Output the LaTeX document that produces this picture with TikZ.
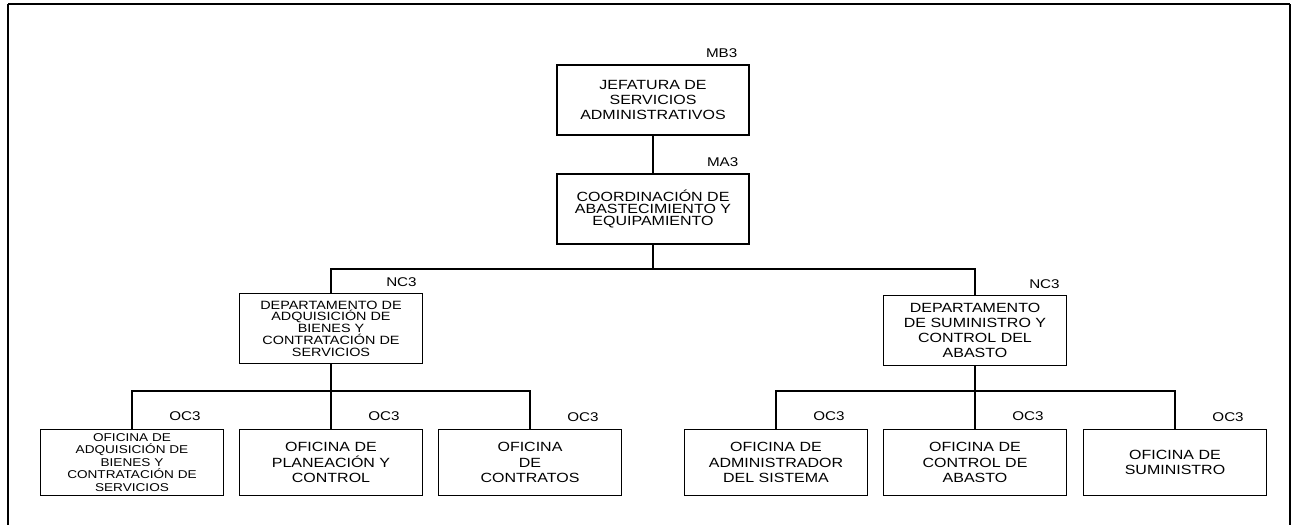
\documentclass[tikz,border=0pt]{standalone}
\usepackage{fontspec}
\setmainfont{Liberation Sans}
\newfontfamily\orgfont[FakeStretch=1.2]{Liberation Sans}
\usetikzlibrary{positioning}

\begin{document}
\begin{tikzpicture}[x=0.75pt,y=-0.75pt]
\useasboundingbox (0,0) rectangle (1293,525);
\tikzstyle{unit}=[draw, line width=0.9pt, align=center, inner sep=1pt, minimum width=137pt, minimum height=50pt, font=\orgfont\fontsize{10}{11.5}\selectfont]
\tikzstyle{tag}=[inner sep=0pt, anchor=base east, font=\orgfont\fontsize{9.5}{9.5}\selectfont]
\tikzstyle{link}=[line width=1pt]

% marco
\draw[line width=1.8pt] (8,525) -- (8,4);
\draw[line width=1.2pt] (8,4) -- (1290,4);
\draw[line width=2.2pt] (1290,4) -- (1290,525);

% niveles superiores
\node[unit, minimum width=144pt, minimum height=52.5pt, font=\orgfont\fontsize{10}{10.9}\selectfont] (jefe) at (653,100) {JEFATURA DE\\SERVICIOS\\ADMINISTRATIVOS};
\node[unit, minimum width=144pt, minimum height=52.5pt, font=\orgfont\fontsize{10}{9.2}\selectfont] (coord) at (653,209) {COORDINACIÓN DE\\ABASTECIMIENTO Y\\EQUIPAMIENTO};

% departamentos
\node[unit, minimum height=52pt, font=\orgfont\fontsize{9}{8.8}\selectfont] (dadq) at (331,328.5) {DEPARTAMENTO DE\\ADQUISICIÓN DE\\BIENES Y\\CONTRATACIÓN DE\\SERVICIOS};
\node[unit, minimum height=52pt, font=\orgfont\fontsize{10}{11.3}\selectfont] (dsum) at (975,330.5) {DEPARTAMENTO\\DE SUMINISTRO Y\\CONTROL DEL\\ABASTO};

% oficinas
\node[unit, font=\orgfont\fontsize{8.5}{9.4}\selectfont] (oadq) at (132,462.5) {OFICINA DE\\ADQUISICIÓN DE\\BIENES Y\\CONTRATACIÓN DE\\SERVICIOS};
\node[unit] (oplan) at (331,462.5) {OFICINA DE\\PLANEACIÓN Y\\CONTROL};
\node[unit] (ocont) at (530,462.5) {OFICINA\\DE\\CONTRATOS};
\node[unit] (oadm) at (776,462.5) {OFICINA DE\\ADMINISTRADOR\\DEL SISTEMA};
\node[unit] (octl) at (975,462.5) {OFICINA DE\\CONTROL DE\\ABASTO};
\node[unit] (osum) at (1175,462.5) {OFICINA DE\\SUMINISTRO};

% claves
\node[tag] (tjefe) at ([shift={(-12,-7)}]jefe.north east) {MB3};
\node[tag] (tcoord) at ([shift={(-11,-7)}]coord.north east) {MA3};
\node[tag] (tdadq) at ([shift={(-6,-7)}]dadq.north east) {NC3};
\node[tag] (tdsum) at ([shift={(-7,-7)}]dsum.north east) {NC3};
\node[tag] (toadq) at ([shift={(-23,-8)}]oadq.north east) {OC3};
\node[tag] (toplan) at ([shift={(-23,-8)}]oplan.north east) {OC3};
\node[tag] (tocont) at ([shift={(-23,-7)}]ocont.north east) {OC3};
\node[tag] (toadm) at ([shift={(-23,-8)}]oadm.north east) {OC3};
\node[tag] (toctl) at ([shift={(-23,-8)}]octl.north east) {OC3};
\node[tag] (tosum) at ([shift={(-23,-7)}]osum.north east) {OC3};

% lineas
\coordinate (h1) at (653,269);
\coordinate (h2) at (331,391);
\coordinate (h3) at (975,391);
\draw[link] (jefe) -- (coord);
\draw[link] (coord.south) -- (h1);
\draw[link] (dadq.north) |- (h1) -| (dsum.north);
\draw[link] (dadq.south) -- (oplan.north);
\draw[link] (oadq.north) |- (h2) -| (ocont.north);
\draw[link] (dsum.south) -- (octl.north);
\draw[link] (oadm.north) |- (h3) -| (osum.north);
\end{tikzpicture}
\end{document}
